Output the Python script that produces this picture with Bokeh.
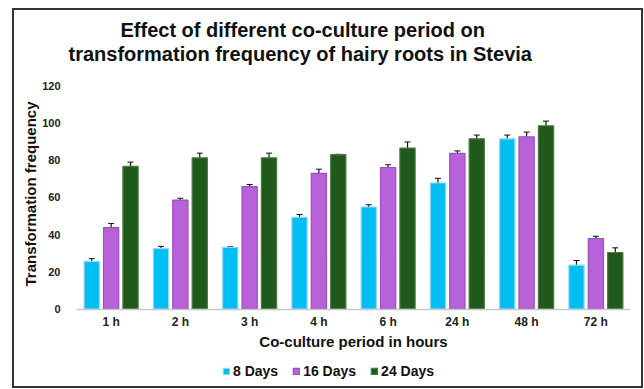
from bokeh.plotting import figure
from bokeh.models import ColumnDataSource, FactorRange, Range1d, Whisker, Legend, LegendItem, Title, FixedTicker
from bokeh.transform import dodge
from bokeh.embed import file_html
from bokeh.resources import INLINE

periods = ["1 h", "2 h", "3 h", "4 h", "6 h", "24 h", "48 h", "72 h"]
series = ["8 Days", "16 Days", "24 Days"]
days8 = [25.6, 32.5, 33.2, 49.3, 54.8, 67.7, 91.4, 23.6]
days16 = [43.7, 58.5, 65.7, 72.8, 76.0, 83.6, 92.5, 37.9]
days24 = [76.6, 81.2, 81.2, 82.9, 86.4, 91.4, 98.4, 30.4]
err8 = [1.5, 1.2, 0.3, 1.5, 1.2, 2.5, 2.0, 2.5]
err16 = [2.3, 1.0, 1.2, 2.3, 1.5, 1.3, 2.5, 1.2]
err24 = [2.3, 2.5, 2.5, 0.2, 3.3, 2.0, 2.5, 2.5]
colors = ["#00BDF2", "#B862DA", "#1F5A1B"]
edges = ["#8FD9F2", "#9C4FBD", "#4C7A48"]

FONT = "Liberation Sans"

# frame extends below y=0 so the x axis (fixed at 0) and legend sit inside it
p = figure(x_range=FactorRange(factors=periods, range_padding=0),
           y_range=Range1d(-41.5, 120),
           frame_width=554, frame_height=301,
           min_border_left=62, min_border_right=11, min_border_top=75, min_border_bottom=0,
           output_backend="svg", toolbar_location=None)
p.margin = (8, 0, 0, 12)
p.styles = {"border": "2px solid #333333"}

p.outline_line_color = None
p.xgrid.grid_line_color = None
p.ygrid.grid_line_color = None

renderers = []
offsets = [-0.28, 0.0, 0.28]
vals = [days8, days16, days24]
errs = [err8, err16, err24]
for s, v, e, off, c, ec in zip(series, vals, errs, offsets, colors, edges):
    src = ColumnDataSource(dict(x=periods, top=v,
                                upper=[a + b for a, b in zip(v, e)],
                                lower=[a - b for a, b in zip(v, e)]))
    r = p.vbar(x=dodge("x", off, range=p.x_range), top="top", bottom=0, width=0.22, source=src,
               fill_color=c, line_color=ec, line_width=1.2)
    renderers.append(r)
    w = Whisker(base=dodge("x", off, range=p.x_range), upper="upper", lower="lower", source=src,
                line_color="#111111", line_width=1.2)
    w.upper_head.size = 6
    w.lower_head.size = 6
    w.upper_head.line_color = "#111111"
    w.lower_head.line_color = "#111111"
    p.add_layout(w)

p.yaxis.ticker = FixedTicker(ticks=[0, 20, 40, 60, 80, 100, 120])
p.yaxis.axis_line_color = None
p.yaxis.major_tick_line_color = None
p.yaxis.minor_tick_line_color = None
p.yaxis.major_label_text_font = FONT
p.yaxis.major_label_text_font_style = "bold"
p.yaxis.major_label_text_font_size = "11px"
p.yaxis.major_label_text_color = "#222222"
p.yaxis.major_label_standoff = 10

# y-axis title placed as a side title so it is centred on the 0-120 part of the frame
p.add_layout(Title(text="Transformation frequency", align="right", offset=16,
                   text_font=FONT, text_font_style="bold", text_font_size="15px",
                   text_color="#111111", standoff=2), "left")

xa = p.xaxis[0]
xa.fixed_location = 0
xa.axis_line_color = "#C8C8C8"
xa.axis_line_width = 1.5
xa.major_tick_line_color = None
xa.minor_tick_line_color = None
xa.major_label_text_font = FONT
xa.major_label_text_font_style = "bold"
xa.major_label_text_font_size = "12px"
xa.major_label_text_color = "#222222"
xa.major_label_standoff = 0
xa.axis_label = "Co-culture period in hours"
xa.axis_label_text_font = FONT
xa.axis_label_text_font_style = "bold"
xa.axis_label_text_font_size = "15px"
xa.axis_label_text_color = "#111111"
xa.axis_label_standoff = 0

legend = Legend(items=[LegendItem(label=s, renderers=[r]) for s, r in zip(series, renderers)],
                orientation="horizontal", location=(146, 7),
                label_text_font=FONT, label_text_font_style="bold", label_text_font_size="14px",
                label_text_color="#111111", glyph_width=8, glyph_height=8, spacing=14,
                label_standoff=3, border_line_color=None, background_fill_alpha=0,
                padding=0, margin=0, label_height=14)
p.add_layout(legend)

p.title.text = "Effect of different co-culture period on"
p.title.align = "left"
p.title.offset = 44
p.title.text_font = FONT
p.title.text_font_style = "bold"
p.title.text_font_size = "20px"
p.title.text_color = "#111111"
p.title.standoff = 0
p.add_layout(Title(text=" ", text_font_size="1px", standoff=18), "above")
p.add_layout(Title(text="transformation frequency of hairy roots in Stevia", align="left", offset=-8,
                   text_font=FONT, text_font_style="bold", text_font_size="20px",
                   text_color="#111111", standoff=0), "above")

open("out.html", "w").write(file_html(p, INLINE))
